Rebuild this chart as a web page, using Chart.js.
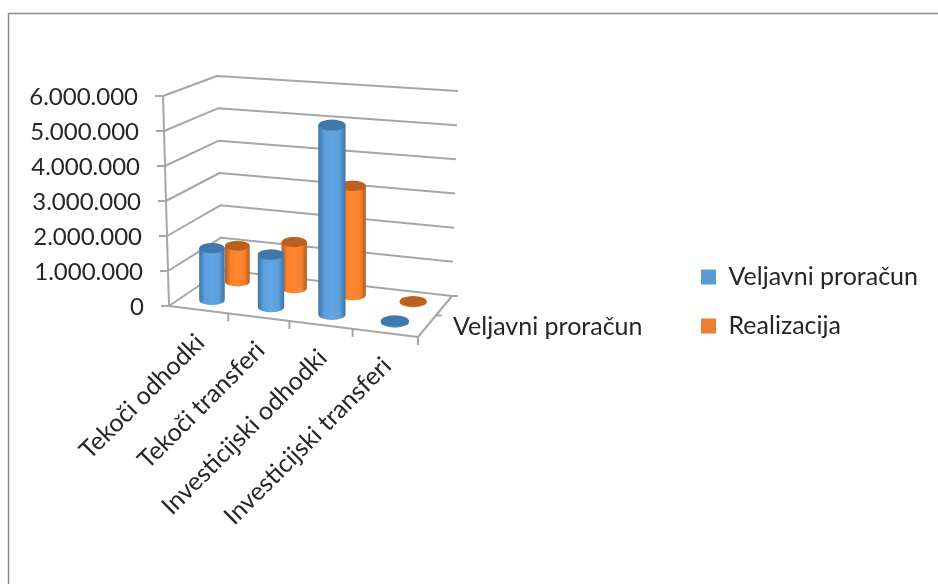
<!DOCTYPE html>
<html>
<head>
<meta charset="utf-8">
<style>html,body{margin:0;padding:0;background:#fff;overflow:hidden}canvas{display:block}</style>
<script src="https://cdn.jsdelivr.net/npm/chart.js@4/dist/chart.umd.min.js"></script>
</head>
<body>
<canvas id="c" width="938" height="584"></canvas>
<script>
const categories = ['Tekoči odhodki', 'Tekoči transferi', 'Investicijski odhodki', 'Investicijski transferi'];
const seriesNames = ['Veljavni proračun', 'Realizacija'];
const veljavniProracun = [1500000, 1500000, 5300000, 30000];
const realizacija = [1080000, 1370000, 3200000, 20000];
const depthLabels = ['Veljavni proračun'];
const FONT = 'Lato';

// Projection of the 3D box: floor and ceiling corners (front-left, front-right, back-right, back-left)
const floorQuad = [[169,306],[418,337],[452,296],[222,270]];
const topQuad = [[163,96],[424,110],[458,91],[217,76]];
function homography(q){
  const [[x0,y0],[x1,y1],[x2,y2],[x3,y3]] = q;
  const dx1=x1-x2,dx2=x3-x2,sx=x0-x1+x2-x3,dy1=y1-y2,dy2=y3-y2,sy=y0-y1+y2-y3;
  const den=dx1*dy2-dx2*dy1, g=(sx*dy2-dx2*sy)/den, h=(dx1*sy-sx*dy1)/den;
  const a=x1-x0+g*x1,b=x3-x0+h*x3,d=y1-y0+g*y1,e=y3-y0+h*y3;
  return (u,v)=>{const w=g*u+h*v+1;return [(a*u+b*v+x0)/w,(d*u+e*v+y0)/w];};
}
const hFloor=homography(floorQuad), hTop=homography(topQuad);
function project(u,v,t){
  const p=hFloor(u,v),q=hTop(u,v);
  return [p[0]+(q[0]-p[0])*t,p[1]+(q[1]-p[1])*t];
}
function seg(ctx,pts){
  ctx.beginPath();
  pts.forEach((p,i)=>i?ctx.lineTo(p[0],p[1]):ctx.moveTo(p[0],p[1]));
  ctx.stroke();
}
const palette=[
  {edge:'#3F73A3',mid:'#5B9FDD',light:'#62A6E4',cap:'#4178AB'},
  {edge:'#B55C1C',mid:'#F9812C',light:'#FF8730',cap:'#BC6022'}
];

const box3d={
  id:'box3d',
  beforeDraw(chart){
    const ctx=chart.ctx;
    ctx.save();
    ctx.fillStyle='#fff';ctx.fillRect(0,0,chart.width,chart.height);
    ctx.strokeStyle='#8C8C8C';ctx.lineWidth=1.5;
    seg(ctx,[[8.5,chart.height],[8.5,13.5],[chart.width,13.5]]);
    ctx.restore();
    const ys=chart.scales.y,xs=chart.scales.x;
    ys.getLabelItems(chart.chartArea).forEach((it,i)=>{
      const t=(ys.bottom-ys.getPixelForTick(i))/ys.height;
      const p=project(0,0,t);
      it.options.translation=[p[0]-25,p[1]+1];
      it.options.textAlign='right';
      it.options.textBaseline='middle';
      it.textOffset=0;
    });
    xs.getLabelItems(chart.chartArea).forEach((it,i)=>{
      const u=(xs.getPixelForTick(i)-xs.left)/xs.width;
      const p=project(u,0,0);
      it.options.translation=[p[0]+2,p[1]+29];
      it.options.textAlign='right';
      it.options.textBaseline='middle';
      it.textOffset=0;
    });
  },
  beforeDatasetsDraw(chart){
    const ctx=chart.ctx,ys=chart.scales.y,xs=chart.scales.x;
    ctx.save();
    ctx.strokeStyle='#A6A6A6';ctx.lineWidth=2;ctx.lineJoin='round';
    ys.ticks.forEach(tk=>{
      const t=(ys.bottom-ys.getPixelForValue(tk.value))/ys.height;
      const a=project(0,0,t),b=project(0,1,t),c=project(1,1,t);
      seg(ctx,[[a[0]-8,a[1]],a,b,c]);
    });
    seg(ctx,[project(0,0,0),project(0,0,1)]);
    seg(ctx,[project(0,0,0),project(1,0,0),project(1,1,0)]);
    const n=xs.ticks.length;
    for(let i=1;i<=n;i++){
      const p=project(i/n,0,0);
      seg(ctx,[p,[p[0],p[1]+8]]);
    }
    const nd=seriesNames.length;
    for(let i=1;i<=nd;i++){
      const p=project(1,i/nd,0);
      seg(ctx,[p,[p[0]+6,p[1]]]);
    }
    ctx.restore();
    ctx.save();
    ctx.fillStyle='#262626';ctx.font='25px '+FONT;ctx.textAlign='left';ctx.textBaseline='middle';
    ctx.fillText(depthLabels[0],453,327);
    ctx.restore();
  },
  beforeDatasetDraw(chart,args){
    const ctx=chart.ctx,xs=chart.scales.x,ys=chart.scales.y;
    const meta=args.meta,ds=args.index,col=palette[ds];
    const v=(ds+0.5)/seriesNames.length;
    meta.data.forEach(el=>{
      const u=(el.x-xs.left)/xs.width;
      const du=el.width/2/xs.width;
      const t1=(ys.bottom-el.y)/ys.height;
      const c0=project(u,v,0),c1=[c0[0],project(u,v,t1)[1]];
      const rx=(project(u+du,v,0)[0]-project(u-du,v,0)[0])/2;
      const ry=rx*0.4;
      const grad=ctx.createLinearGradient(c0[0]-rx,0,c0[0]+rx,0);
      grad.addColorStop(0,col.edge);
      grad.addColorStop(0.22,col.mid);
      grad.addColorStop(0.5,col.light);
      grad.addColorStop(0.78,col.mid);
      grad.addColorStop(1,col.edge);
      ctx.save();
      ctx.fillStyle=grad;
      ctx.beginPath();
      ctx.moveTo(c1[0]-rx,c1[1]);
      ctx.lineTo(c0[0]-rx,c0[1]);
      ctx.ellipse(c0[0],c0[1],rx,ry,0,Math.PI,0,true);
      ctx.lineTo(c1[0]+rx,c1[1]);
      ctx.closePath();
      ctx.fill();
      ctx.fillStyle=col.cap;
      ctx.beginPath();
      ctx.ellipse(c1[0],c1[1],rx,ry,0,0,Math.PI*2);
      ctx.fill();
      ctx.restore();
    });
    return false;
  }
};

new Chart(document.getElementById('c'),{
  type:'bar',
  data:{
    labels:categories,
    datasets:[
      {label:seriesNames[0],data:veljavniProracun,backgroundColor:'#5B9BD5',borderWidth:0},
      {label:seriesNames[1],data:realizacija,backgroundColor:'#ED7D31',borderWidth:0}
    ]
  },
  plugins:[box3d],
  options:{
    responsive:false,
    devicePixelRatio:1,
    animation:false,
    layout:{padding:{top:19,right:10}},
    datasets:{bar:{grouped:false,barPercentage:0.55,categoryPercentage:0.8}},
    plugins:{
      title:{display:false},
      tooltip:{enabled:false},
      legend:{
        position:'right',
        maxWidth:260,
        labels:{font:{family:FONT,size:25},color:'#262626',boxWidth:15,boxHeight:15,padding:24}
      }
    },
    scales:{
      x:{
        grid:{display:false},border:{display:false},
        ticks:{mirror:true,autoSkip:false,minRotation:45,maxRotation:45,font:{family:FONT,size:25},color:'#262626'}
      },
      y:{
        min:0,max:6000000,
        grid:{display:false},border:{display:false},
        ticks:{mirror:true,stepSize:1000000,font:{family:FONT,size:24},color:'#262626',
          callback:v=>String(v).replace(/\B(?=(\d{3})+$)/g,'.')}
      }
    }
  }
});
</script>
</body>
</html>
